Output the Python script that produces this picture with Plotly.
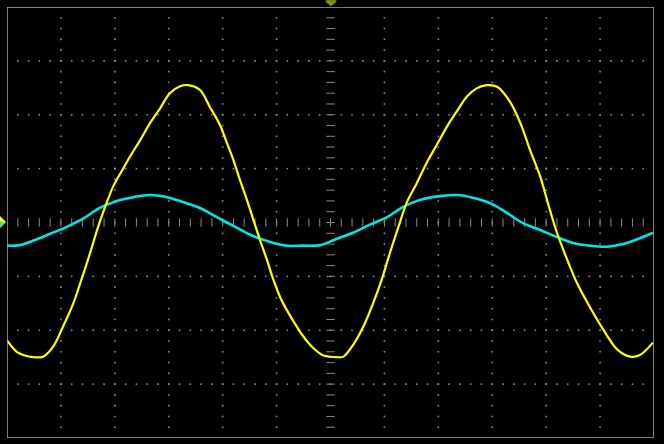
import plotly.graph_objects as go
import numpy as np

# Channel 1 (yellow) — time in divisions, amplitude in divisions
ch1_t = [-6.00, -5.82, -5.67, -5.52, -5.33, -5.14, -4.96, -4.77, -4.62, -4.46,
         -4.31, -4.18, -4.03, -3.84, -3.72, -3.53, -3.35, -3.16, -2.98, -2.79,
         -2.64, -2.42, -2.24, -2.05, -1.93, -1.80, -1.68, -1.55, -1.43, -1.31,
         -1.18, -1.06, -0.91, -0.72, -0.50, -0.32, -0.13, 0.12, 0.24, 0.42,
         0.61, 0.79, 0.95, 1.10, 1.26, 1.41, 1.60, 1.78, 1.97, 2.16,
         2.34, 2.53, 2.71, 2.90, 3.09, 3.33, 3.52, 3.70, 3.89, 4.07,
         4.20, 4.39, 4.57, 4.81, 5.06, 5.32, 5.56, 5.74, 5.98]
ch1_v = [-2.19, -2.40, -2.47, -2.50, -2.49, -2.30, -1.93, -1.50, -1.06, -0.57,
         -0.08, 0.29, 0.67, 1.01, 1.22, 1.53, 1.84, 2.12, 2.40, 2.53,
         2.55, 2.46, 2.15, 1.81, 1.50, 1.16, 0.79, 0.42, 0.05, -0.32,
         -0.69, -1.06, -1.44, -1.78, -2.12, -2.33, -2.47, -2.50, -2.49, -2.27,
         -1.93, -1.50, -1.06, -0.57, -0.08, 0.36, 0.73, 1.10, 1.44, 1.78,
         2.06, 2.34, 2.49, 2.55, 2.52, 2.24, 1.85, 1.35, 0.85, 0.23,
         -0.19, -0.69, -1.12, -1.57, -1.99, -2.36, -2.49, -2.46, -2.23]

# Channel 2 (cyan)
ch2_t = [-6.00, -5.76, -5.52, -5.20, -4.89, -4.59, -4.28, -3.96, -3.66, -3.35,
         -3.03, -2.74, -2.42, -2.11, -1.73, -1.44, -1.12, -0.81, -0.51, -0.19,
         0.12, 0.42, 0.73, 1.05, 1.35, 1.66, 2.03, 2.35, 2.64, 2.96,
         3.27, 3.57, 3.89, 4.20, 4.50, 4.81, 5.13, 5.43, 5.74, 5.98]
ch2_v = [-0.43, -0.42, -0.34, -0.21, -0.08, 0.07, 0.27, 0.40, 0.47, 0.51,
         0.47, 0.38, 0.27, 0.10, -0.10, -0.25, -0.36, -0.43, -0.43, -0.42,
         -0.30, -0.19, -0.04, 0.10, 0.29, 0.42, 0.49, 0.51, 0.46, 0.36,
         0.18, -0.01, -0.14, -0.27, -0.38, -0.43, -0.45, -0.40, -0.29, -0.19]

X_DIVS = 6
Y_DIVS = 4
SUB = 0.2
GRID = "#8c8c8c"
FRAME = "#a8a8a8"

fig = go.Figure()

# dotted graticule
gx, gy = [], []
subs_y = np.round(np.arange(-Y_DIVS + SUB, Y_DIVS, SUB), 3)
subs_x = np.round(np.arange(-X_DIVS + SUB, X_DIVS, SUB), 3)
for xv in range(-X_DIVS + 1, X_DIVS):
    if xv == 0:
        continue
    for yv in subs_y:
        gx.append(xv); gy.append(yv)
for yv in range(-Y_DIVS + 1, Y_DIVS):
    if yv == 0:
        continue
    for xv in subs_x:
        gx.append(xv); gy.append(yv)
fig.add_trace(go.Scatter(x=gx, y=gy, mode="markers", hoverinfo="skip",
                         marker=dict(symbol="square", size=1.6, color=GRID, line=dict(width=0))))

# centre axes tick marks
fig.add_trace(go.Scatter(x=list(subs_x), y=[0] * len(subs_x), mode="markers", hoverinfo="skip",
                         marker=dict(symbol="line-ns", size=6, line=dict(width=1, color=GRID))))
fig.add_trace(go.Scatter(x=[0] * len(subs_y), y=list(subs_y), mode="markers", hoverinfo="skip",
                         marker=dict(symbol="line-ew", size=6, line=dict(width=1, color=GRID))))

# traces
fig.add_trace(go.Scatter(x=ch2_t, y=ch2_v, mode="lines", line=dict(color="#00e6e6", width=2.6, shape="spline", smoothing=1.0)))
fig.add_trace(go.Scatter(x=ch1_t, y=ch1_v, mode="lines", line=dict(color="#ffff00", width=2.2, shape="spline", smoothing=0.9)))

fig.add_shape(type="rect", xref="x", yref="y", x0=-X_DIVS, x1=X_DIVS, y0=-Y_DIVS, y1=Y_DIVS,
              line=dict(color=FRAME, width=1.5))

# trigger position marker (top centre) and channel ground markers (left), in paper coords
fig.add_shape(type="path", xref="paper", yref="paper", layer="above",
              path="M 0.4931 1.0162 L 0.5085 1.0162 L 0.5085 1.0116 L 0.5008 1.0023 L 0.4931 1.0116 Z",
              fillcolor="#8f8f10", line=dict(color="#5a6a10", width=1))
fig.add_shape(type="path", xref="paper", yref="paper", layer="above",
              path="M -0.0108 0.5151 L -0.0015 0.5012 L -0.0108 0.4872 Z",
              fillcolor="#ffff00", line=dict(width=0))
fig.add_shape(type="path", xref="paper", yref="paper", layer="above",
              path="M -0.0108 0.5035 L -0.0030 0.4990 L -0.0108 0.4880 Z",
              fillcolor="#30e0c8", line=dict(width=0))

fig.update_layout(
    width=664, height=444,
    margin=dict(l=7, r=10, t=7, b=6),
    paper_bgcolor="#000000", plot_bgcolor="#000000",
    showlegend=False,
    xaxis=dict(range=[-X_DIVS, X_DIVS], visible=False, fixedrange=True),
    yaxis=dict(range=[-Y_DIVS, Y_DIVS], visible=False, fixedrange=True),
)

fig.write_html("out.html", config={"displayModeBar": False},
               post_script="document.body.style.margin='0';document.body.style.overflow='hidden';document.body.style.background='#000';")
